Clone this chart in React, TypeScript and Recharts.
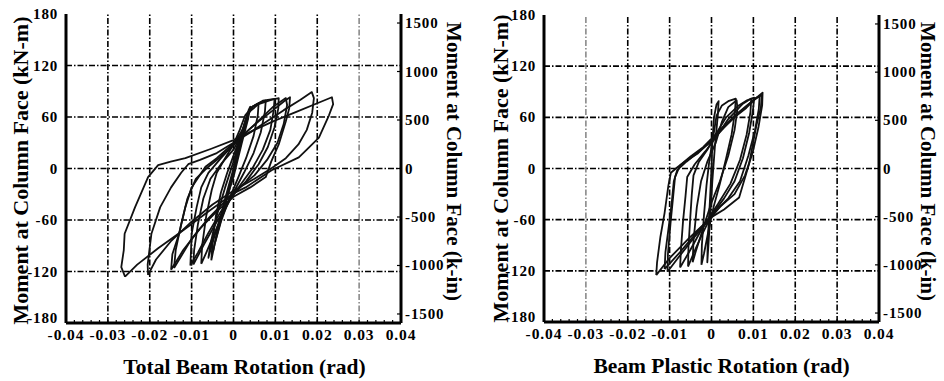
import React from 'react';
import { LineChart, Line, XAxis, YAxis, ReferenceLine, Label } from 'recharts';

const FONT = "'Liberation Serif','Times New Roman',Times,serif";

// axis ticks / labels
const xMajorTicks = [-0.04, -0.03, -0.02, -0.01, 0, 0.01, 0.02, 0.03, 0.04];
const xTickLabels = ['-0.04', '-0.03', '-0.02', '-0.01', '0', '0.01', '0.02', '0.03', '0.04'];
const xGridTicks = [-0.03, -0.02, -0.01, 0, 0.01, 0.02, 0.03];
const yLeftTicks = [-180, -120, -60, 0, 60, 120, 180];
const yGridTicks = [-120, -60, 0, 60, 120];
const yRightTicks = [-1500, -1000, -500, 0, 500, 1000, 1500];
const KNM_LIMIT = 180;
const KIN_LIMIT = 1593; // 180 kN-m in k-in
const xMinorTicks = Array.from({ length: 41 }, (_, i) => (i - 20) * 0.002);

// ---- Total beam rotation loops (rad, kN-m)
const tb1 = [[0,0],[0.001,22],[0.002,42],[0.003,58],[0.0033,62],[0.0025,45],[0.001,15],[-0.001,-25],[-0.003,-60],[-0.0045,-88],[-0.0048,-95],[-0.004,-75],[-0.002,-35],[0,0]];
const tb2 = [[0,-2],[0.0015,30],[0.003,55],[0.0036,68],[0.004,72],[0.0035,58],[0.002,30],[0,-10],[-0.002,-40],[-0.004,-70],[-0.0055,-95],[-0.006,-104],[-0.0055,-88],[-0.004,-55],[-0.002,-22],[0,8],[0.0015,35]];
const tb3 = [[-0.0053,-107],[-0.005,-85],[-0.0042,-55],[-0.003,-28],[-0.0015,-5],[0,15],[0.0015,35],[0.003,58],[0.0045,72],[0.006,76],[0.0058,62],[0.0048,38],[0.003,12],[0.001,-12],[-0.001,-35],[-0.003,-62],[-0.0045,-88],[-0.0053,-107]];
const tb4 = [[-0.0077,-111],[-0.0075,-90],[-0.0065,-55],[-0.0052,-25],[-0.004,-5],[-0.002,12],[0,28],[0.0015,45],[0.0028,62],[0.0045,72],[0.0065,77],[0.0077,79],[0.0075,66],[0.0065,42],[0.0048,18],[0.0025,-5],[0,-28],[-0.002,-48],[-0.0045,-75],[-0.0065,-98],[-0.0077,-111]];
const tb5 = [[-0.0103,-113],[-0.0101,-90],[-0.01,-76],[-0.0088,-45],[-0.0077,-22],[-0.006,-5],[-0.003,12],[0,28],[0.0025,48],[0.0035,65],[0.006,75],[0.009,80],[0.0108,82],[0.0107,70],[0.0098,48],[0.0082,25],[0.006,5],[0.003,-15],[0,-30],[-0.003,-50],[-0.006,-75],[-0.0085,-98],[-0.0103,-113]];
const tb6 = [[-0.0149,-118],[-0.0146,-100],[-0.013,-76],[-0.0115,-45],[-0.01,-22],[-0.0067,2],[-0.004,12],[-0.001,25],[0.002,38],[0.006,55],[0.0095,68],[0.012,78],[0.0135,83],[0.0133,70],[0.0125,55],[0.0108,28],[0.009,8],[0.0077,-10],[0.004,-22],[0,-33],[-0.004,-50],[-0.008,-70],[-0.012,-95],[-0.0149,-118]];
const tb7 = [[-0.0204,-124],[-0.0205,-112],[-0.0196,-76],[-0.0175,-45],[-0.0149,-22],[-0.0125,-5],[-0.0108,5],[-0.008,10],[-0.004,18],[0,30],[0.004,42],[0.008,55],[0.012,68],[0.016,80],[0.0187,89],[0.0192,82],[0.0188,65],[0.0175,45],[0.0155,28],[0.0125,12],[0.009,0],[0.005,-12],[0,-26],[-0.005,-42],[-0.01,-62],[-0.015,-85],[-0.0185,-106],[-0.0204,-124]];
const tb8 = [[-0.0259,-126],[-0.0268,-115],[-0.0262,-95],[-0.026,-76],[-0.0235,-45],[-0.0204,-10],[-0.018,4],[-0.015,8],[-0.0115,12],[-0.0053,23],[0,33],[0.005,45],[0.01,56],[0.015,66],[0.02,76],[0.0235,83],[0.0238,75],[0.0228,62],[0.0204,36],[0.0175,22],[0.0156,13],[0.0091,-2],[0.0029,-22],[0,-29],[-0.006,-50],[-0.012,-72],[-0.018,-93],[-0.023,-112],[-0.0259,-126]];
const tb9 = [[-0.0142,-116],[-0.0138,-95],[-0.0125,-65],[-0.011,-35],[-0.009,-12],[-0.0065,0],[-0.003,14],[0,27],[0.003,42],[0.0065,58],[0.0095,72],[0.0125,82],[0.0128,74],[0.012,52],[0.0105,30],[0.008,10],[0.005,-8],[0.002,-20],[-0.002,-38],[-0.006,-58],[-0.01,-82],[-0.0142,-116]];
const tb10 = [[-0.0096,-112],[-0.0094,-95],[-0.0085,-65],[-0.0072,-35],[-0.0055,-12],[-0.003,5],[0,22],[0.002,40],[0.0032,62],[0.0045,72],[0.007,79],[0.0098,81],[0.0096,68],[0.0088,45],[0.007,22],[0.0045,0],[0.0015,-20],[-0.001,-38],[-0.004,-62],[-0.007,-88],[-0.0096,-112]];

// ---- Beam plastic rotation loops (rad, kN-m)
const bp1 = [[0,0],[0.0002,30],[0.0006,60],[0.0012,75],[0.0017,79],[0.0015,62],[0.0008,25],[0.0002,-15],[-0.0003,-55],[-0.0008,-95],[-0.001,-110],[-0.0009,-85],[-0.0004,-40],[0,0]];
const bp2 = [[-0.0024,-113],[-0.0023,-90],[-0.0018,-55],[-0.0012,-20],[-0.0005,10],[0.0005,40],[0.0012,62],[0.0025,74],[0.004,79],[0.0058,82],[0.0056,66],[0.0048,40],[0.0035,12],[0.002,-18],[0.0005,-45],[-0.0008,-75],[-0.0018,-100],[-0.0024,-113]];
const bp3 = [[-0.0045,-110],[-0.0043,-85],[-0.0035,-45],[-0.0025,-15],[-0.001,8],[0.001,30],[0.0025,55],[0.004,72],[0.006,80],[0.0062,70],[0.0055,45],[0.004,15],[0.002,-15],[0,-40],[-0.002,-70],[-0.0038,-98],[-0.0045,-110]];
const bp4 = [[-0.0056,-115],[-0.0055,-92],[-0.0051,-60],[-0.0047,-30],[-0.0043,-8],[-0.003,8],[-0.001,22],[0.001,40],[0.0035,60],[0.0065,74],[0.0085,80],[0.0102,83],[0.0099,68],[0.009,42],[0.0075,12],[0.0055,-15],[0.003,-35],[0,-55],[-0.0025,-80],[-0.0045,-102],[-0.0056,-115]];
const bp5 = [[-0.0105,-121],[-0.0104,-100],[-0.0098,-65],[-0.0092,-35],[-0.0087,-10],[-0.0075,4],[-0.005,14],[-0.002,25],[0.002,45],[0.006,64],[0.009,76],[0.0122,89],[0.0121,74],[0.0112,48],[0.0098,18],[0.008,-8],[0.0055,-30],[0.002,-45],[0,-57],[-0.004,-80],[-0.008,-105],[-0.0105,-121]];
const bp6 = [[-0.0132,-125],[-0.013,-110],[-0.0122,-80],[-0.0112,-52],[-0.0103,-20],[-0.0097,-5],[-0.008,2],[-0.006,9],[-0.0032,18],[0,33],[0.0034,52],[0.0083,71],[0.0107,83],[0.012,86],[0.0118,72],[0.0107,50],[0.009,6],[0.0066,-34],[0.003,-48],[0,-57],[-0.005,-80],[-0.01,-105],[-0.0132,-125]];
const bp7 = [[-0.0112,-118],[-0.011,-98],[-0.0102,-68],[-0.0095,-40],[-0.009,-15],[-0.0082,-2],[-0.006,8],[-0.003,20],[0,32],[0.003,48],[0.0065,65],[0.0095,78],[0.0115,85],[0.0113,70],[0.0104,45],[0.0088,15],[0.0068,-15],[0.004,-35],[0.001,-50],[-0.003,-72],[-0.0075,-98],[-0.0112,-118]];
const bp8 = [[-0.0075,-116],[-0.0073,-95],[-0.0068,-62],[-0.0062,-32],[-0.0058,-10],[-0.004,5],[-0.0015,20],[0.001,36],[0.004,58],[0.0075,76],[0.0095,82],[0.0093,66],[0.0084,40],[0.0068,10],[0.0045,-18],[0.0015,-42],[-0.002,-68],[-0.005,-95],[-0.0075,-116]];

const totalLoops = [tb1, tb2, tb3, tb4, tb5, tb6, tb7, tb8, tb9, tb10];
const plasticLoops = [bp1, bp2, bp3, bp4, bp5, bp6, bp7, bp8];

const toPts = (arr: number[][]) => arr.map(([x, y]) => ({ x, y }));

const fmtX = (v: number) => {
  const i = xMajorTicks.findIndex((m) => Math.abs(m - v) < 1e-9);
  return i >= 0 ? xTickLabels[i] : '';
};

const textBase = { fill: '#000', fontWeight: 700, fontFamily: FONT } as const;

function XTick(props: any) {
  const { x, y, payload } = props;
  const label = fmtX(payload.value);
  if (!label) return null;
  return (
    <text x={x} y={y + 11} textAnchor="middle" fontSize={15.5} letterSpacing={0.9} {...textBase}>
      {label}
    </text>
  );
}

function YTickLeft(props: any) {
  const { x, y, payload } = props;
  // the bottom label sits slightly above the axis corner, as in the reference
  const lift = payload.value === yLeftTicks[0] ? -5 : 0;
  return (
    <text x={x} y={y + 5 + lift} textAnchor="end" fontSize={15} letterSpacing={0.8} {...textBase}>
      {String(payload.value)}
    </text>
  );
}

function YTickRight(props: any) {
  const { x, y, payload } = props;
  return (
    <text x={x} y={y + 5} textAnchor="start" fontSize={15} letterSpacing={0.9} {...textBase}>
      {String(payload.value)}
    </text>
  );
}

const axisLineStyle = { stroke: '#000', strokeWidth: 3 };

type PanelProps = {
  loops: number[][][];
  xTitle: string;
  grayX: number;
  top: number;
  bottomH: number;
  leftW: number;
  rightW: number;
  xTitleDx: number;
  lTitleDx: number;
  lTitleDy: number;
  rTitleDx: number;
};

function Panel(p: PanelProps) {
  return (
    <LineChart width={472} height={381} margin={{ top: p.top, right: 0, bottom: 0, left: 0 }}>
      <XAxis
        xAxisId="b"
        type="number"
        dataKey="x"
        domain={[-0.04, 0.04]}
        ticks={xMinorTicks}
        interval={0}
        allowDataOverflow
        height={p.bottomH}
        axisLine={axisLineStyle}
        tickLine={{ stroke: '#000', strokeWidth: 1.2 }}
        tickSize={-3}
        tickMargin={9}
        tick={<XTick />}
      >
        <Label value={p.xTitle} position="center" dx={p.xTitleDx} dy={14} fontSize={21.5} {...textBase} />
      </XAxis>
      <XAxis
        xAxisId="t"
        orientation="top"
        type="number"
        dataKey="x"
        domain={[-0.04, 0.04]}
        tick={false}
        tickLine={false}
        height={0}
        axisLine={axisLineStyle}
      />
      <YAxis
        yAxisId="l"
        type="number"
        domain={[-KNM_LIMIT, KNM_LIMIT]}
        ticks={yLeftTicks}
        interval={0}
        allowDataOverflow
        width={p.leftW}
        axisLine={axisLineStyle}
        tickLine={false}
        tickSize={0}
        tickMargin={8}
        tick={<YTickLeft />}
      >
        <Label value="Moment at Column Face (kN-m)" position="center" angle={-90} dx={p.lTitleDx} dy={p.lTitleDy} fontSize={22} {...textBase} />
      </YAxis>
      <YAxis
        yAxisId="r"
        orientation="right"
        type="number"
        domain={[-KIN_LIMIT, KIN_LIMIT]}
        ticks={yRightTicks}
        interval={0}
        allowDataOverflow
        width={p.rightW}
        axisLine={axisLineStyle}
        tickLine={{ stroke: '#000', strokeWidth: 1.2 }}
        tickSize={-4}
        tickMargin={8}
        tick={<YTickRight />}
      >
        <Label value="Moment at Column Face (k-in)" position="center" angle={90} dx={p.rTitleDx} dy={-7} fontSize={21} {...textBase} />
      </YAxis>
      {xGridTicks.map((v) => (
        <ReferenceLine
          key={'gx' + v}
          xAxisId="b"
          yAxisId="l"
          x={v}
          stroke={v === p.grayX ? '#8a8a8a' : '#000'}
          strokeWidth={1.6}
          strokeDasharray="6 2 1.5 2"
        />
      ))}
      {yGridTicks.map((v) => (
        <ReferenceLine
          key={'gy' + v}
          xAxisId="b"
          yAxisId="l"
          y={v}
          stroke="#000"
          strokeWidth={1.6}
          strokeDasharray="6 2 1.5 2"
        />
      ))}
      {p.loops.map((loop, i) => (
        <Line
          key={'loop' + i}
          xAxisId="b"
          yAxisId="l"
          data={toPts(loop)}
          dataKey="y"
          type="linear"
          dot={false}
          activeDot={false}
          stroke="#111"
          strokeWidth={1.8}
          strokeLinejoin="round"
          isAnimationActive={false}
        />
      ))}
    </LineChart>
  );
}

export default function App() {
  return (
    <div style={{ position: 'fixed', left: 0, top: 0, width: 944, height: 381, background: '#fff' }}>
      <div style={{ position: 'absolute', left: 0, top: 0 }}>
        <Panel
          loops={totalLoops}
          xTitle="Total Beam Rotation (rad)"
          grayX={0.03}
          top={14}
          bottomH={58}
          leftW={66}
          rightW={71}
          xTitleDx={11}
          lTitleDx={-13}
          lTitleDy={2}
          rTitleDx={18}
        />
      </div>
      <div style={{ position: 'absolute', left: 472, top: 0 }}>
        <Panel
          loops={plasticLoops}
          xTitle="Beam Plastic Rotation (rad)"
          grayX={-0.03}
          top={15}
          bottomH={59}
          leftW={72}
          rightW={65}
          xTitleDx={10}
          lTitleDx={-8}
          lTitleDy={0}
          rTitleDx={17}
        />
      </div>
    </div>
  );
}
